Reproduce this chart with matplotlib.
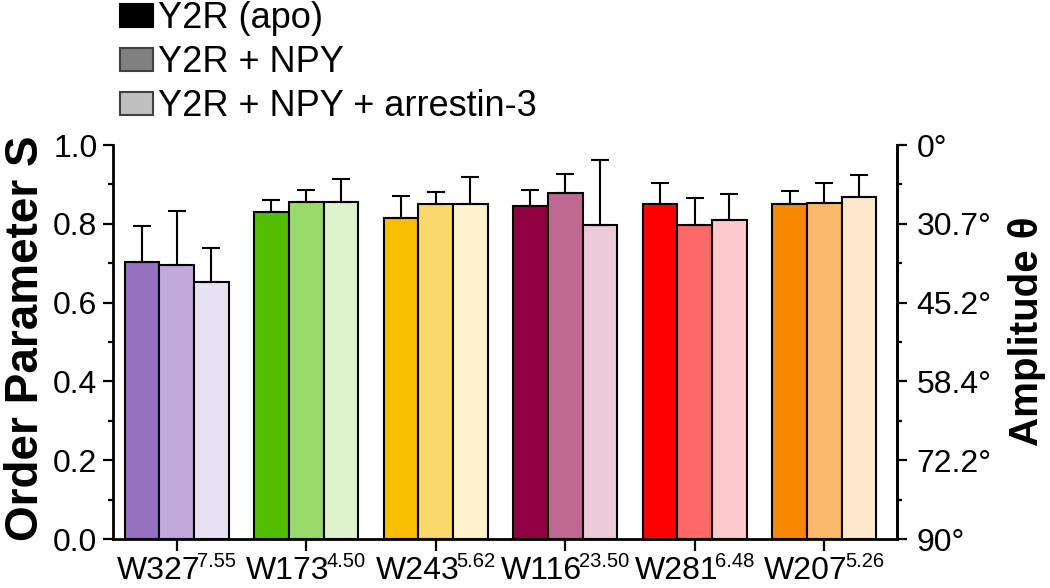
import matplotlib

matplotlib.use("Agg")
import matplotlib.pyplot as plt
import numpy as np
from matplotlib.patches import Patch
from matplotlib.ticker import MultipleLocator

plt.rcParams["font.family"] = ["Liberation Sans", "DejaVu Sans"]

# residues and their Ballesteros-Weinstein superscripts
residues = ["W327", "W173", "W243", "W116", "W281", "W207"]
bw_numbers = ["7.55", "4.50", "5.62", "23.50", "6.48", "5.26"]

series_names = ["Y2R (apo)", "Y2R + NPY", "Y2R + NPY + arrestin-3"]
apo = [0.704, 0.831, 0.816, 0.844, 0.850, 0.850]
apo_err = [0.091, 0.029, 0.055, 0.042, 0.054, 0.033]
npy = [0.695, 0.855, 0.850, 0.877, 0.797, 0.854]
npy_err = [0.138, 0.031, 0.031, 0.049, 0.069, 0.049]
arr = [0.653, 0.855, 0.850, 0.797, 0.810, 0.867]
arr_err = [0.085, 0.059, 0.069, 0.165, 0.065, 0.057]

# one colour triple (apo, +NPY, +arrestin) per residue
group_colors = [
    ["#9470BE", "#C1A9DA", "#E8E1F1"],
    ["#52BE00", "#9ADA6A", "#DEF2CC"],
    ["#F8BF00", "#FAD96A", "#FFF2CC"],
    ["#900040", "#BF6990", "#EBCADA"],
    ["#FF0000", "#FF6868", "#FFCACC"],
    ["#F98800", "#F9B96A", "#FFE7CC"],
]
legend_colors = ["#000000", "#808080", "#C0C0C0"]
legend_edges = ["#000000", "#404040", "#404040"]

s_ticks = [0.0, 0.2, 0.4, 0.6, 0.8, 1.0]
theta_labels = ["90°", "72.2°", "58.4°", "45.2°", "30.7°", "0°"]

fig = plt.figure(figsize=(10.5, 5.88), dpi=100)
ax = fig.add_axes([0.1073, 0.0833, 0.7470, 0.6701])

x = np.arange(len(residues))
width = 0.268
series = [(apo, apo_err), (npy, npy_err), (arr, arr_err)]
for k, (vals, errs) in enumerate(series):
    pos = x + (k - 1) * width
    cols = [g[k] for g in group_colors]
    ax.bar(pos, vals, width, color=cols, edgecolor="black", linewidth=1.5, zorder=2)
    ax.errorbar(pos, vals, yerr=[np.zeros(len(vals)), errs], fmt="none",
                ecolor="black", elinewidth=1.5, capsize=6.5, capthick=1.5, zorder=3)

ax.set_xlim(-0.494, 5.562)
ax.set_ylim(0, 1.0)
ax.set_xticks(x)
ax.set_xticklabels([])
ax.set_yticks(s_ticks)
ax.set_yticklabels([f"{v:.1f}" for v in s_ticks])
ax.yaxis.set_minor_locator(MultipleLocator(0.1))
ax.tick_params(axis="y", which="major", length=7, width=1.6, labelsize=23, pad=4)
ax.tick_params(axis="y", which="minor", length=3.6, width=1.6)
ax.tick_params(axis="x", which="major", length=8.5, width=1.6)
ax.spines["top"].set_visible(False)
for side in ("left", "bottom", "right"):
    ax.spines[side].set_linewidth(2.0)

ax2 = ax.twinx()
ax2.set_ylim(0, 1.0)
ax2.set_yticks(s_ticks)
ax2.set_yticklabels(theta_labels)
ax2.yaxis.set_minor_locator(MultipleLocator(0.1))
ax2.tick_params(axis="y", which="major", length=7, width=1.6, labelsize=23, pad=7)
ax2.tick_params(axis="y", which="minor", length=3.6, width=1.6)
for side in ("top", "left", "bottom"):
    ax2.spines[side].set_visible(False)
ax2.spines["right"].set_linewidth(2.0)

# category labels with superscripts, centred as a pair under each tick
renderer = fig.canvas.get_renderer()
main_y, sup_y = -40, -28
for xi, name, sup in zip(x, residues, bw_numbers):
    main = ax.annotate(name, xy=(xi, 0), xycoords=("data", "axes fraction"),
                       xytext=(0, main_y), textcoords="offset pixels",
                       ha="left", va="baseline", fontsize=23)
    small = ax.annotate(sup, xy=(xi, 0), xycoords=("data", "axes fraction"),
                        xytext=(0, sup_y), textcoords="offset pixels",
                        ha="left", va="baseline", fontsize=14.5)
    w_main = main.get_window_extent(renderer).width
    w_sup = small.get_window_extent(renderer).width
    start = -(w_main + w_sup - 3) / 2
    main.set_position((start, main_y))
    small.set_position((start + w_main - 3, sup_y))

fig.text(26 / 1050, 0.424, "Order Parameter S", rotation=90, fontsize=33,
         fontweight="bold", ha="center", va="center")
fig.text(1027 / 1050, 0.436, "Amplitude θ", rotation=90, fontsize=29,
         fontweight="bold", ha="center", va="center")

handles = [Patch(facecolor=c, edgecolor=e, linewidth=1.5)
           for c, e in zip(legend_colors, legend_edges)]
fig.legend(handles, series_names, loc="upper left",
           bbox_to_anchor=(120 / 1050, 1 - 1 / 588), frameon=False,
           borderpad=0, borderaxespad=0, handlelength=0.92, handleheight=0.62,
           handletextpad=0.12, labelspacing=0.25, fontsize=26)

fig.savefig("out.png", dpi=100)
